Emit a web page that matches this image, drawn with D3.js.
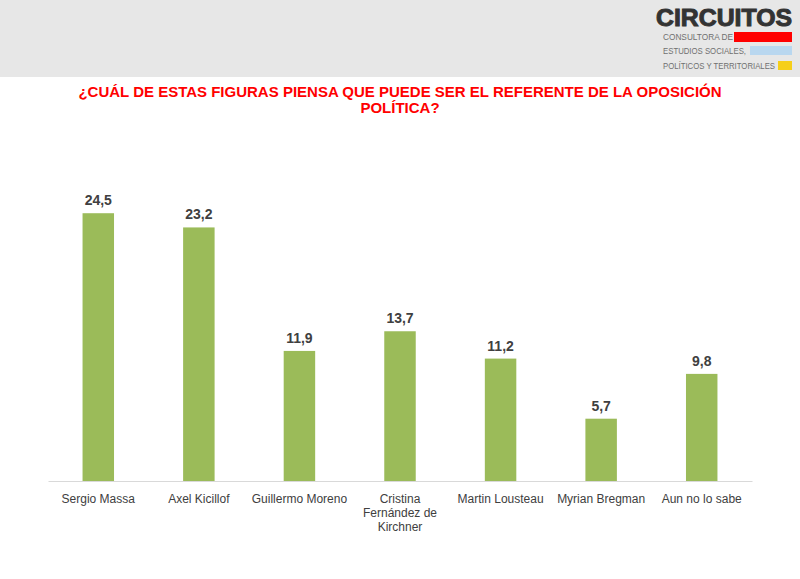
<!DOCTYPE html>
<html>
<head>
<meta charset="utf-8">
<script src="https://cdn.jsdelivr.net/npm/d3@7"></script>
<style>
    body { margin: 0; background: #fff; }
    svg { display: block; font-family: "Liberation Sans", Arial, sans-serif; }
</style>
</head>
<body>
<div id="chart"></div>
<script>
// survey data
const candidates = ["Sergio Massa", "Axel Kicillof", "Guillermo Moreno", "Cristina Fernández de Kirchner",
    "Martin Lousteau", "Myrian Bregman", "Aun no lo sabe"];
const tickLabels = [["Sergio Massa"], ["Axel Kicillof"], ["Guillermo Moreno"], ["Cristina", "Fernández de", "Kirchner"],
    ["Martin Lousteau"], ["Myrian Bregman"], ["Aun no lo sabe"]];
const values = [24.5, 23.2, 11.9, 13.7, 11.2, 5.7, 9.8];
const titleLines = ["¿CUÁL DE ESTAS FIGURAS PIENSA QUE PUEDE SER EL REFERENTE DE LA OPOSICIÓN", "POLÍTICA?"];
const logoLines = ["CONSULTORA DE", "ESTUDIOS SOCIALES,", "POLÍTICOS Y TERRITORIALES"];

const width = 800, height = 579;

const svg = d3.select("#chart").append("svg")
    .attr("width", width)
    .attr("height", height);

// header band
svg.append("rect")
    .attr("x", 0).attr("y", 0)
    .attr("width", width).attr("height", 77)
    .attr("fill", "#e7e7e7");

// logo
let logo = svg.append("g").attr("class", "logo");
logo.append("text")
    .attr("x", 656).attr("y", 26)
    .attr("textLength", 136)
    .attr("lengthAdjust", "spacingAndGlyphs")
    .style("font-size", "24px")
    .style("font-weight", "bold")
    .attr("fill", "#333333")
    .attr("stroke", "#333333")
    .attr("stroke-width", 1)
    .text("CIRCUITOS");

const logoBars = [
    {x: 734, y: 32, w: 58, h: 10, c: "#ff0000"},
    {x: 750, y: 46, w: 42, h: 9, c: "#b9d7ef"},
    {x: 778, y: 61, w: 14, h: 9, c: "#f6cf1a"}
];
logo.selectAll("rect")
    .data(logoBars)
    .enter().append("rect")
    .attr("x", d => d.x).attr("y", d => d.y)
    .attr("width", d => d.w).attr("height", d => d.h)
    .attr("fill", d => d.c);

const logoWidths = [70, 83, 112];
logo.selectAll(".logoLine")
    .data(logoLines)
    .enter().append("text")
    .attr("class", "logoLine")
    .attr("x", 663)
    .attr("y", (d, i) => 40 + i * 14.3)
    .attr("textLength", (d, i) => logoWidths[i])
    .attr("lengthAdjust", "spacingAndGlyphs")
    .style("font-size", "9.5px")
    .attr("fill", "#707070")
    .text(d => d);

// title
svg.selectAll(".title")
    .data(titleLines)
    .enter().append("text")
    .attr("class", "title")
    .attr("x", 400)
    .attr("y", (d, i) => 97 + i * 16)
    .attr("text-anchor", "middle")
    .style("font-size", "15px")
    .style("font-weight", "bold")
    .attr("fill", "#ff0000")
    .text(d => d);

// scales
const x = d3.scaleBand()
    .domain(candidates)
    .range([48, 752])
    .paddingInner(0.687)
    .paddingOuter(0.3435);

const y = d3.scaleLinear()
    .domain([0, 25])
    .range([481, 481 - 25 * 10.93]);

// bars
svg.selectAll(".bar")
    .data(values)
    .enter().append("rect")
    .attr("class", "bar")
    .attr("x", (d, i) => x(candidates[i]))
    .attr("y", d => y(d))
    .attr("width", x.bandwidth())
    .attr("height", d => y(0) - y(d))
    .attr("fill", "#9bbb59");

// value labels
svg.selectAll(".valueLabel")
    .data(values)
    .enter().append("text")
    .attr("class", "valueLabel")
    .attr("x", (d, i) => x(candidates[i]) + x.bandwidth() / 2)
    .attr("y", d => y(d) - 8)
    .attr("text-anchor", "middle")
    .style("font-size", "14px")
    .style("font-weight", "bold")
    .attr("fill", "#404040")
    .text(d => d3.format(".1f")(d).replace(".", ","));

// x axis
const xAxis = svg.append("g")
    .attr("transform", `translate(0, ${y(0)})`)
    .call(d3.axisBottom(x).tickSize(0).tickFormat(""));
xAxis.select(".domain").attr("stroke", "#d9d9d9");

xAxis.selectAll(".tick").each(function(d, i) {
    let t = d3.select(this).append("text")
        .attr("y", 22)
        .attr("text-anchor", "middle")
        .style("font-size", "12px")
        .attr("fill", "#404040");
    tickLabels[i].forEach((line, j) => {
        t.append("tspan").attr("x", 0).attr("dy", j === 0 ? 0 : 14).text(line);
    });
});
</script>
</body>
</html>
